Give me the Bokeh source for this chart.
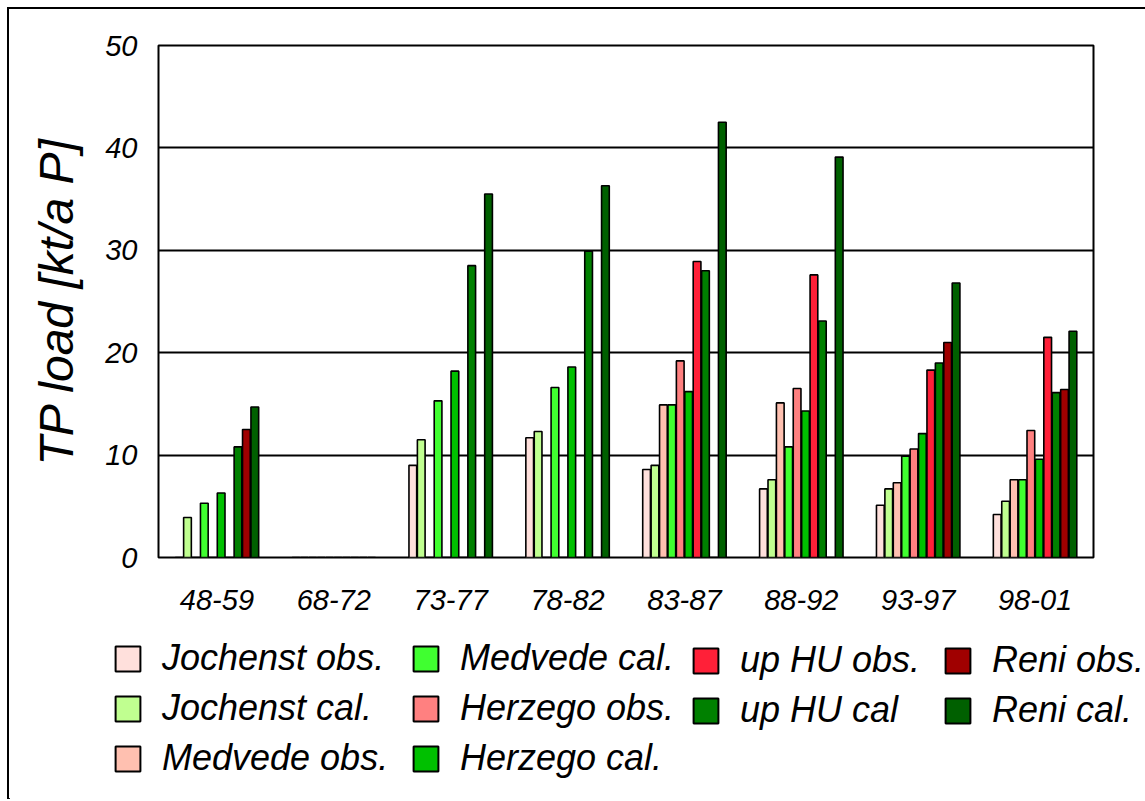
from bokeh.plotting import figure
from bokeh.models import ColumnDataSource, Legend, LegendItem, FactorRange, SingleIntervalTicker
from bokeh.layouts import column
from bokeh.transform import dodge
from bokeh.embed import file_html
from bokeh.resources import INLINE

periods = ["48-59", "68-72", "73-77", "78-82", "83-87", "88-92", "93-97", "98-01"]

series_names = ["Jochenst obs.", "Jochenst cal.", "Medvede obs.", "Medvede cal.",
                "Herzego obs.", "Herzego cal.", "up HU obs.", "up HU cal",
                "Reni obs.", "Reni cal."]

jochenst_obs = [0, 0, 9.0, 11.7, 8.6, 6.7, 5.1, 4.2]
jochenst_cal = [3.9, 0, 11.5, 12.3, 9.0, 7.6, 6.7, 5.5]
medvede_obs = [0, 0, 0, 0, 14.9, 15.1, 7.3, 7.6]
medvede_cal = [5.3, 0, 15.3, 16.6, 14.9, 10.8, 9.9, 7.6]
herzego_obs = [0, 0, 0, 0, 19.2, 16.5, 10.6, 12.4]
herzego_cal = [6.3, 0, 18.2, 18.6, 16.2, 14.3, 12.1, 9.6]
uphu_obs = [0, 0, 0, 0, 28.9, 27.6, 18.3, 21.5]
uphu_cal = [10.8, 0, 28.5, 29.9, 28.0, 23.1, 19.0, 16.1]
reni_obs = [12.5, 0, 0, 0, 0, 0, 21.0, 16.4]
reni_cal = [14.7, 0, 35.5, 36.3, 42.5, 39.1, 26.8, 22.1]

colors = ["#FFE0DC", "#C0FF90", "#FFC0B0", "#40FF30", "#FF8080",
          "#00C000", "#FF2038", "#008000", "#A00000", "#006000"]

all_series = [jochenst_obs, jochenst_cal, medvede_obs, medvede_cal, herzego_obs,
              herzego_cal, uphu_obs, uphu_cal, reni_obs, reni_cal]

keys = ["s%d" % i for i in range(10)]
data = {"period": periods}
for k, vals in zip(keys, all_series):
    data[k] = vals
source = ColumnDataSource(data)

p = figure(x_range=FactorRange(*periods, range_padding=0), y_range=(0, 50),
           frame_width=935, frame_height=512,
           output_backend="svg", toolbar_location=None,
           min_border_left=149, min_border_right=52, min_border_top=36, min_border_bottom=70)
p.frame_align = False

pitch = 0.072
for i, k in enumerate(keys):
    p.vbar(x=dodge("period", (i - 4.5) * pitch, range=p.x_range), top=k, width=0.066,
           source=source, fill_color=colors[i], line_color="black", line_width=1.6)

p.outline_line_color = "black"
p.outline_line_width = 2
p.xgrid.grid_line_color = None
p.ygrid.grid_line_color = "black"
p.ygrid.grid_line_width = 2
p.yaxis.ticker = SingleIntervalTicker(interval=10)

for ax in (p.xaxis[0], p.yaxis[0]):
    ax.axis_line_color = None
    ax.major_tick_line_color = None
    ax.minor_tick_line_color = None
    ax.major_label_text_font = "Liberation Sans"
    ax.major_label_text_font_style = "italic"
    ax.major_label_text_font_size = "29px"
    ax.major_label_text_color = "black"

p.xaxis.major_label_standoff = 26
p.yaxis.major_label_standoff = 15
p.yaxis.axis_label = "TP load [kt/a P]"
p.yaxis.axis_label_text_font = "Liberation Sans"
p.yaxis.axis_label_text_font_style = "italic"
p.yaxis.axis_label_text_font_size = "48px"
p.yaxis.axis_label_text_color = "black"
p.yaxis.axis_label_standoff = 19

# legend area: a frame-only figure below the chart, holding four legend columns
lf = figure(width=1136, height=172, x_range=(0, 1), y_range=(0, 1),
            output_backend="svg", toolbar_location=None,
            x_axis_location=None, y_axis_location=None,
            min_border_left=0, min_border_right=0, min_border_top=0, min_border_bottom=0)
lf.frame_align = False
lf.grid.grid_line_color = None
lf.outline_line_color = None

hidden = ColumnDataSource({"x": [-5], "top": [-5]})
swatches = [lf.vbar(x="x", top="top", width=0.1, source=hidden, fill_color=c,
                    line_color="black", line_width=2) for c in colors]

columns = [[0, 1, 2], [3, 4, 5], [6, 7], [8, 9]]
col_x = [103, 401, 681, 933]
for idxs, cx in zip(columns, col_x):
    items = [LegendItem(label=series_names[i], renderers=[swatches[i]]) for i in idxs]
    bottom = 20 + (3 - len(idxs)) * 48
    lg = Legend(items=items, location=(cx, bottom), orientation="vertical",
                label_text_font="Liberation Sans", label_text_font_style="italic",
                label_text_font_size="36px", label_text_color="black",
                glyph_width=31, glyph_height=31,
                label_standoff=19, spacing=8, padding=0, margin=0,
                border_line_color=None, background_fill_alpha=0)
    lf.add_layout(lg, "center")

layout = column(p, lf, spacing=0,
                styles={"border-left": "2px solid black", "border-top": "2px solid black",
                        "margin-left": "7px", "margin-top": "7px"})

open("out.html", "w").write(file_html(layout, INLINE))
